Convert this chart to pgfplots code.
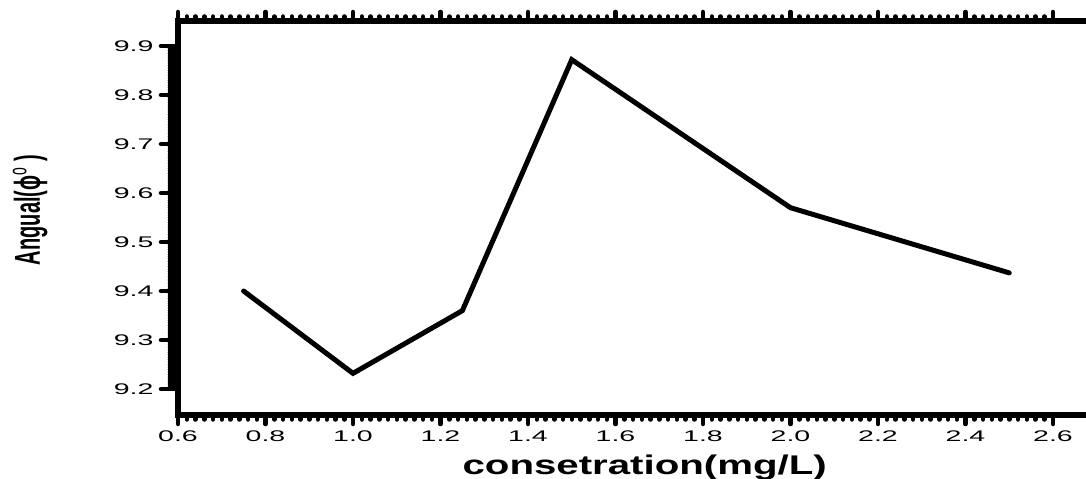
\documentclass[border=0pt]{standalone}
\usepackage{pgfplots}
\pgfplotsset{compat=1.18}
\usepackage{fontspec}
\setmainfont{Liberation Sans}
\newcommand{\tl}[1]{\scalebox{1.85}[1]{\fontsize{15.4bp}{18bp}\selectfont #1}}
\begin{document}
\begin{tikzpicture}
% axis carrying the y ticks (longer ticks)
\begin{axis}[
  scale only axis, width=918.75bp, height=394bp,
  xmin=0.6, xmax=2.7, ymin=9.147, ymax=9.951,
  axis line style={line width=5bp},
  tick align=outside,
  tick style={line width=4.5bp, black, line cap=round},
  xtick=\empty,
  ytick={9.2,9.3,9.4,9.5,9.6,9.7,9.8,9.9},
  yticklabels={\tl{9.2},\tl{9.3},\tl{9.4},\tl{9.5},\tl{9.6},\tl{9.7},\tl{9.8},\tl{9.9}},
  y tick label style={xshift=-4bp},
  minor y tick num=19,
  ytick pos=left,
  major tick length=17bp, minor tick length=8bp,
  ylabel={\scalebox{1}[1.8]{\fontsize{20bp}{24bp}\selectfont\bfseries Angual(ϕ\textsuperscript{\mdseries o} )}},
  y label style={at={(axis description cs:-0.161,0.52)}, anchor=center},
]
\end{axis}
% axis carrying the x ticks and the data
\begin{axis}[
  scale only axis, width=918.75bp, height=394bp,
  xmin=0.6, xmax=2.7, ymin=9.147, ymax=9.951,
  axis line style={line width=5bp},
  tick align=outside,
  tick style={line width=4.5bp, black, line cap=round},
  xtick={0.6,0.8,1.0,1.2,1.4,1.6,1.8,2.0,2.2,2.4,2.6},
  xticklabels={\tl{0.6},\tl{0.8},\tl{1.0},\tl{1.2},\tl{1.4},\tl{1.6},\tl{1.8},\tl{2.0},\tl{2.2},\tl{2.4},\tl{2.6}},
  x tick label style={yshift=-3bp},
  ytick=\empty,
  minor x tick num=9,
  xtick pos=both,
  xticklabel pos=lower,
  major tick length=9bp, minor tick length=4.5bp,
  xlabel={\scalebox{1.49}[1]{\fontsize{27bp}{30bp}\selectfont\bfseries consetration(mg/L)}},
  x label style={at={(axis description cs:0.508,-0.152)}, anchor=base},
]
\addplot[black, line width=5bp, line cap=round] coordinates {
  (0.75,9.400) (1.0,9.232) (1.25,9.360) (1.5,9.872) (2.0,9.570) (2.5,9.437)
};
\end{axis}
\pgfresetboundingbox
\useasboundingbox ([xshift=-178bp,yshift=-64bp]current axis.south west) rectangle ([xshift=908bp,yshift=415bp]current axis.south west);
\end{tikzpicture}
\end{document}
